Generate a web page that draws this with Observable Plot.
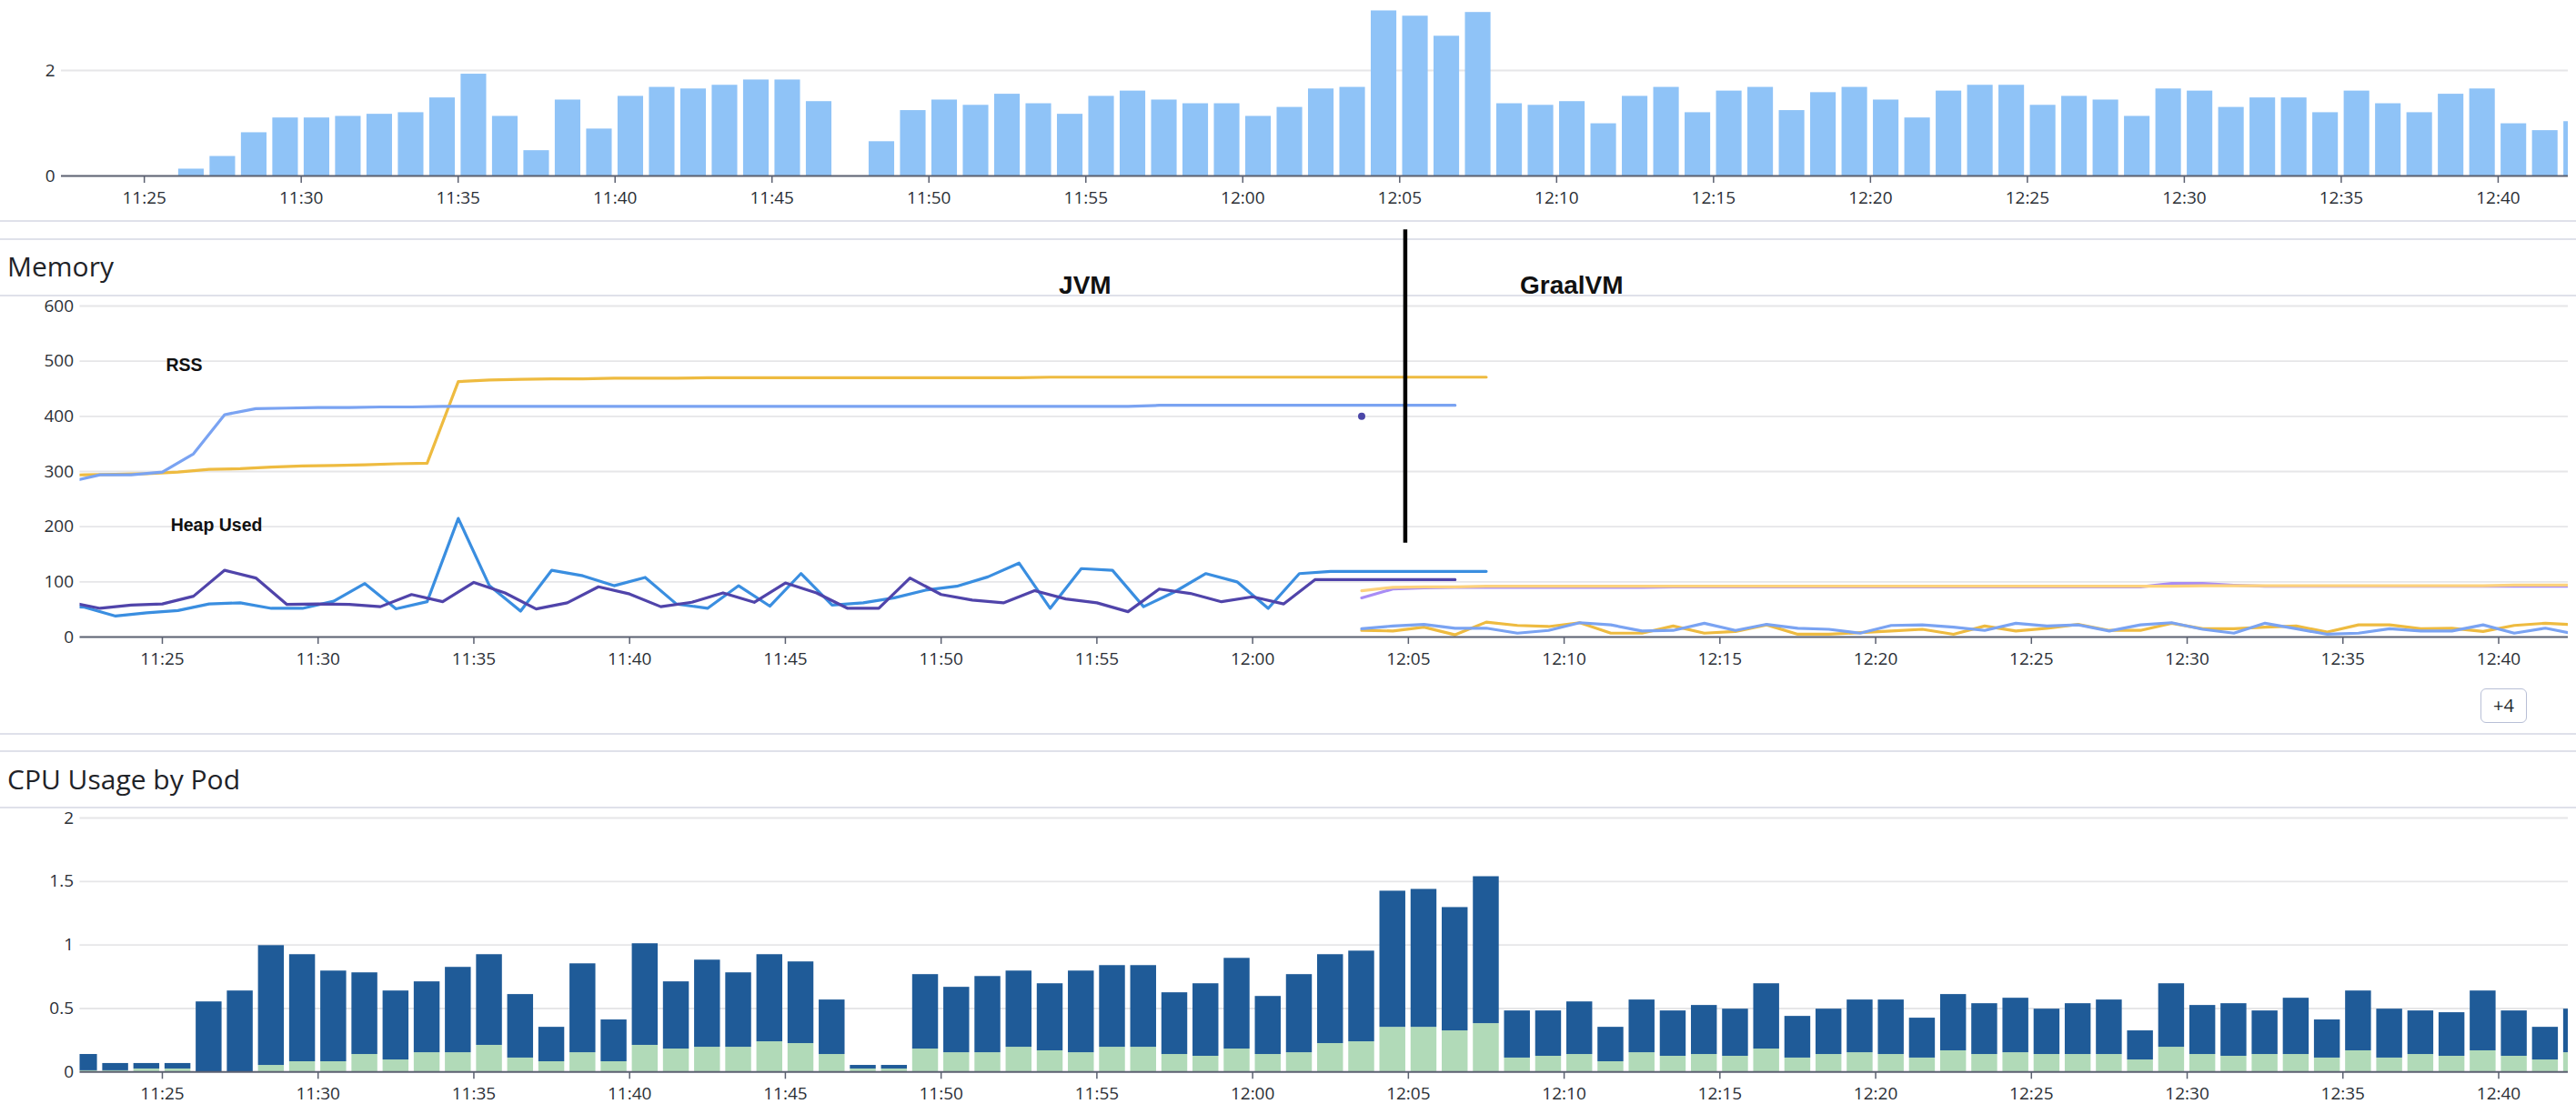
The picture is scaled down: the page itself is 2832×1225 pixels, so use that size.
<!DOCTYPE html>
<html>
<head>
<meta charset="utf-8">
<script src="https://cdn.jsdelivr.net/npm/d3@7"></script>
<script src="https://cdn.jsdelivr.net/npm/@observablehq/plot@0.6"></script>
<style>
  html, body { margin: 0; padding: 0; background: #fff; }
  #page { position: relative; width: 2832px; height: 1225px; overflow: hidden; background: #fff; font-family: "Open Sans", sans-serif; }
  .sep { position: absolute; left: 0; width: 2832px; height: 2px; background: #dfe1ea; }
  .title { position: absolute; left: 8px; font-size: 30px; line-height: 30px; color: #1f2328; white-space: nowrap; }
  .chart { position: absolute; left: 0; }
  #more { position: absolute; left: 2727px; top: 757px; width: 51px; height: 38px; box-sizing: border-box;
          border: 1.5px solid #b8bfd6; border-radius: 6px; font-size: 20px; line-height: 35px; text-align: center; color: #24292e; }
</style>
</head>
<body>
<div id="page">
  <div class="sep" style="top:242px"></div>
  <div class="sep" style="top:262px"></div>
  <div class="sep" style="top:324px"></div>
  <div class="sep" style="top:806px"></div>
  <div class="sep" style="top:825px"></div>
  <div class="sep" style="top:887px"></div>
  <div class="title" style="top:278px">Memory</div>
  <div class="title" style="top:842px">CPU Usage by Pod</div>
  <div id="more">+4</div>
</div>
<script>
// ---------- data (minutes after 11:00) ----------
const timeTicks = ["11:25","11:30","11:35","11:40","11:45","11:50","11:55","12:00","12:05","12:10","12:15","12:20","12:25","12:30","12:35","12:40"];
const domainMinutes = [22.358, 102.234];

// top panel: one bar per minute, starting 11:26 (null = no data)
const requestStart = 26;
const requestRate = [0.13,0.37,0.82,1.10,1.10,1.13,1.17,1.20,1.48,1.93,1.13,0.48,1.44,0.89,1.51,1.68,1.65,1.72,1.82,1.82,1.41,null,0.65,1.24,
  1.44,1.34,1.55,1.37,1.17,1.51,1.61,1.44,1.37,1.37,1.13,1.30,1.65,1.68,3.13,3.03,2.65,3.10,1.37,1.34,1.41,0.99,1.51,1.68,1.20,1.61,
  1.68,1.24,1.58,1.68,1.44,1.10,1.61,1.72,1.72,1.34,1.51,1.44,1.13,1.65,1.61,1.30,1.48,1.48,1.20,1.61,1.37,1.20,1.55,1.65,0.99,0.86,1.03];
const topTicks = [0, 2];

// memory panel
const memTicks = [0, 100, 200, 300, 400, 500, 600];
const rssA = [[22,281],[23,294],[24,294],[25,299],[26,332],[27,403],[28,414],[29,415],[30,416],[31,416],[32,417],[33,417],[34,418],
  [35,418],[36,418],[37,418],[38,418],[39,418],[40,418],[41,418],[42,418],[43,418],[44,418],[45,418],[46,418],[47,418],[48,418],
  [49,418],[50,418],[51,418],[52,418],[53,418],[54,418],[55,418],[56,418],[57,420],[58,420],[59,420],[60,420],[61,420],[62,420],
  [63,420],[64,420],[65,420],[66,420],[66.5,420]];
const heapA = [[22,63],[23,52],[24,58],[25,60],[26,74],[27,121],[28,107],[29,59],[30,60],[31,59],[32,55],[33,77],[34,64],[35,99],
  [36,80],[37,51],[38,62],[39,91],[40,78],[41,55],[42,63],[43,80],[44,63],[45,98],[46,80],[47,52],[48,52],[49,107],[50,77],[51,67],
  [52,62],[53,84],[54,69],[55,62],[56,46],[57,87],[58,79],[59,64],[60,73],[61,60],[62,104],[63,104],[64,104],[65,104],[66,104],[66.5,104]];
const podBStart = 21.5;
const rssB = [293,294,295,296,299,304,305,308,310,311,312,314,315,463,466,467,468,468,469,469,469,470,470,470,470,470,470,470,470,470,
  470,470,471,471,471,471,471,471,471,471,471,471,471,471,471,471,471];
const heapB = [57,54,38,44,48,60,62,52,52,65,97,51,64,215,93,47,121,111,93,108,60,52,93,56,115,58,62,71,85,92,109,134,52,124,121,55,
  82,115,100,52,115,119,119,119,119,119,119];
const graalStart = 63.5;
const rssC = [84,90,91,91,92,92,92,92,92,92,92,92,92,92,92,92,92,92,92,92,92,92,92,92,92,92,92,93,93,93,93,93,93,93,93,93,93,94,94,94];
const rssD = [71,87,89,90,90,90,90,90,90,90,91,91,91,91,91,91,91,91,91,91,91,91,91,91,91,91,97,97,94,92,92,92,92,92,92,92,92,92,92,92];
const heapC = [12,11,18,4,27,21,19,26,7,7,20,7,10,22,5,5,8,11,14,5,20,11,16,23,12,12,25,15,15,18,20,9,22,22,15,16,10,21,25,22];
const heapD = [15,20,23,16,16,7,12,26,22,11,12,25,12,23,16,14,7,21,22,18,12,25,20,22,11,22,26,14,7,25,15,5,7,15,11,11,22,7,16,5];
const lonePoint = [[63.5, 400]];
const labels = [
  {text: "RSS", m: 25.70, v: 482, size: 19.5},
  {text: "Heap Used", m: 26.74, v: 192, size: 19.5},
  {text: "JVM", m: 54.62, v: 623, size: 28},
  {text: "GraalVM", m: 70.24, v: 623, size: 28}
];
const divider = [{m: 64.9, v1: 170, v2: 738}];

// CPU panel: per pod, one bar per minute from 11:22
const cpuStart = 22;
const cpuPodA = [0.010,0.010,0.024,0.024,0,0,0.052,0.081,0.081,0.138,0.095,0.152,0.152,0.210,0.110,0.081,0.152,0.081,0.210,0.181,0.195,
  0.195,0.238,0.224,0.138,0.024,0.024,0.181,0.152,0.152,0.195,0.167,0.152,0.195,0.195,0.138,0.124,0.181,0.138,0.152,0.224,0.238,0.352,
  0.352,0.324,0.381,0.110,0.124,0.138,0.081,0.152,0.124,0.138,0.124,0.181,0.110,0.138,0.152,0.138,0.110,0.167,0.138,0.152,0.138,0.138,
  0.138,0.095,0.195,0.138,0.124,0.138,0.138,0.110,0.167,0.110,0.138,0.124,0.167,0.124,0.095,0.152];
const cpuPodB = [0.128,0.057,0.043,0.043,0.552,0.638,0.943,0.843,0.714,0.643,0.543,0.558,0.672,0.714,0.500,0.271,0.700,0.329,0.800,0.529,
  0.686,0.586,0.686,0.643,0.429,0.028,0.028,0.586,0.515,0.600,0.600,0.528,0.643,0.643,0.643,0.486,0.571,0.714,0.457,0.615,0.700,0.714,
  1.072,1.086,0.971,1.157,0.371,0.357,0.414,0.271,0.415,0.357,0.386,0.371,0.514,0.328,0.357,0.415,0.429,0.314,0.443,0.400,0.429,0.357,
  0.400,0.429,0.229,0.500,0.386,0.414,0.343,0.443,0.300,0.471,0.385,0.343,0.343,0.471,0.357,0.257,0.343];
const cpuTicks = [0, 0.5, 1, 1.5, 2];

// ---------- helpers ----------
const at = m => new Date(2024, 0, 1, 11, 0, 0, Math.round(m * 60000));
const tickDates = timeTicks.map(s => { const [h, mm] = s.split(":").map(Number); return new Date(2024, 0, 1, h, mm); });
const xDomain = domainMinutes.map(at);
const fmt = d3.timeFormat("%H:%M");
const regular = (start, values) => values.map((v, i) => [start + i, v]);
const TEXT = "#2b2f36", AXIS = "#5b6070";
const baseStyle = {fontFamily: "'Open Sans', sans-serif", fontSize: "19px", color: TEXT, background: "transparent", overflow: "visible"};
const xAxis = () => Plot.axisX(tickDates, {tickFormat: fmt, tickSize: 8, tickPadding: 8.5, stroke: AXIS, strokeWidth: 1.5, fill: TEXT, fontSize: 19, label: null});
const yAxis = (ticks, fmtY) => Plot.axisY(ticks, {tickSize: 0, tickPadding: 7, fill: TEXT, fontSize: 19, label: null, tickFormat: fmtY});
const grid = ticks => Plot.gridY(ticks, {stroke: "#e6e6e8", strokeOpacity: 1, strokeWidth: 1.8});
const zero = () => Plot.ruleY([0], {stroke: AXIS, strokeWidth: 2});
const page = document.getElementById("page");
function place(svg, top) { svg.classList.add("chart"); svg.style.top = top + "px"; page.appendChild(svg); }

// ---------- top panel ----------
const reqData = requestRate.map((v, i) => ({m: requestStart + i, v})).filter(d => d.v != null);
place(Plot.plot({
  width: 2832, height: 243, marginLeft: 67, marginRight: 9, marginTop: 7.4, marginBottom: 50,
  style: baseStyle,
  x: {type: "time", domain: xDomain},
  y: {domain: [0, 3.2]},
  marks: [
    grid(topTicks.filter(t => t !== 0)),
    Plot.rect(reqData, {x1: d => at(d.m), x2: d => at(d.m + 1), y1: 0, y2: "v", fill: "#8fc3f7", insetLeft: 3.2, insetRight: 3.2, clip: true}),
    zero(),
    xAxis(),
    yAxis(topTicks, d3.format("d"))
  ]
}), 0);

// ---------- memory panel ----------
const line = (pts, stroke, w = 3.2) => Plot.line(pts, {x: d => at(d[0]), y: d => d[1], stroke, strokeWidth: w, clip: true});
place(Plot.plot({
  width: 2832, height: 505, marginLeft: 87.5, marginRight: 9, marginTop: 91, marginBottom: 50,
  style: baseStyle,
  x: {type: "time", domain: xDomain},
  y: {domain: [0, 600]},
  marks: [
    grid(memTicks.filter(t => t !== 0)),
    line(rssB.length ? regular(podBStart, rssB) : [], "#eebb40"),
    line(rssA, "#7aa3f2"),
    line(regular(podBStart, heapB), "#3a8ee0"),
    line(heapA, "#5044aa"),
    line(regular(graalStart, rssD), "#a88cf5"),
    line(regular(graalStart, rssC), "#fdd27d"),
    line(regular(graalStart, heapC), "#eebb40"),
    line(regular(graalStart, heapD), "#7aa3f2"),
    Plot.dot(lonePoint, {x: d => at(d[0]), y: d => d[1], r: 4, fill: "#4b47a8", stroke: "none"}),
    zero(),
    Plot.ruleX(divider, {x: d => at(d.m), y1: "v1", y2: "v2", stroke: "#000", strokeWidth: 4.5}),
    Plot.text(labels, {x: d => at(d.m), y: "v", text: "text", fontSize: d => d.size, fontFamily: "'Liberation Sans', Arial, sans-serif",
      fontWeight: "bold", fill: "#111", textAnchor: "middle", lineAnchor: "bottom"}),
    xAxis(),
    yAxis(memTicks, d3.format("d"))
  ]
}), 245);

// ---------- CPU panel ----------
const cpuRows = cpuPodA.map((a, i) => ({m: cpuStart + i, a, b: cpuPodB[i]}));
place(Plot.plot({
  width: 2832, height: 335, marginLeft: 87.5, marginRight: 9, marginTop: 9, marginBottom: 46.7,
  style: baseStyle,
  x: {type: "time", domain: xDomain},
  y: {domain: [0, 2]},
  marks: [
    grid(cpuTicks.filter(t => t !== 0)),
    Plot.rect(cpuRows, {x1: d => at(d.m), x2: d => at(d.m + 1), y1: 0, y2: d => d.a, fill: "#b1dab8", insetLeft: 2.9, insetRight: 2.9, clip: true}),
    Plot.rect(cpuRows, {x1: d => at(d.m), x2: d => at(d.m + 1), y1: d => d.a, y2: d => d.a + d.b, fill: "#1f5b98", insetLeft: 2.9, insetRight: 2.9, clip: true}),
    zero(),
    xAxis(),
    yAxis(cpuTicks, d => String(d))
  ]
}), 890);
</script>
</body>
</html>
